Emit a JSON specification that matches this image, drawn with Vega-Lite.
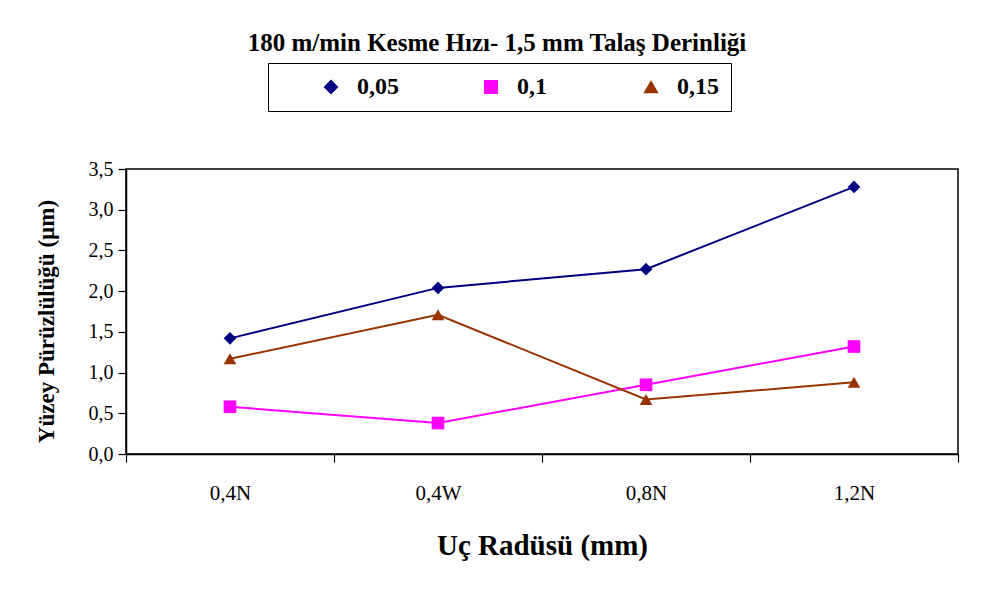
{
  "$schema": "https://vega.github.io/schema/vega-lite/v6.json",
  "autosize": "none",
  "width": 832,
  "height": 285,
  "padding": {"left": 126, "top": 169, "right": 26, "bottom": 147},
  "background": "white",
  "config": {
    "font": "Liberation Serif",
    "view": {"stroke": "black", "strokeWidth": 1.5},
    "axis": {"grid": false, "domainColor": "black", "domainWidth": 1.5, "tickColor": "black", "tickWidth": 1.2, "labelColor": "black", "titleColor": "black", "labelFont": "Liberation Serif", "titleFont": "Liberation Serif"}
  },
  "title": {
    "text": "180 m/min Kesme Hızı- 1,5 mm Talaş Derinliği",
    "font": "Liberation Serif",
    "fontSize": 25,
    "fontWeight": "bold",
    "color": "black",
    "anchor": "middle",
    "dx": -45,
    "baseline": "alphabetic",
    "offset": -13
  },
  "data": {
    "values": [
      {"radius": "0,4N", "feed": "0,05", "Ra": 1.42},
      {"radius": "0,4W", "feed": "0,05", "Ra": 2.04},
      {"radius": "0,8N", "feed": "0,05", "Ra": 2.27},
      {"radius": "1,2N", "feed": "0,05", "Ra": 3.28},
      {"radius": "0,4N", "feed": "0,1", "Ra": 0.58},
      {"radius": "0,4W", "feed": "0,1", "Ra": 0.38},
      {"radius": "0,8N", "feed": "0,1", "Ra": 0.85},
      {"radius": "1,2N", "feed": "0,1", "Ra": 1.32},
      {"radius": "0,4N", "feed": "0,15", "Ra": 1.17},
      {"radius": "0,4W", "feed": "0,15", "Ra": 1.71},
      {"radius": "0,8N", "feed": "0,15", "Ra": 0.67},
      {"radius": "1,2N", "feed": "0,15", "Ra": 0.88}
    ]
  },
  "encoding": {
    "x": {
      "field": "radius", "type": "nominal", "sort": ["0,4N", "0,4W", "0,8N", "1,2N"],
      "scale": {"type": "band", "paddingInner": 0, "paddingOuter": 0},
      "axis": {"labelAngle": 0, "tickBand": "extent", "tickSize": 8, "labelPadding": 20, "labelFontSize": 21, "title": "Uç Radüsü (mm)", "titleFontSize": 29, "titleFontWeight": "bold", "titlePadding": 28}
    },
    "y": {
      "field": "Ra", "type": "quantitative",
      "scale": {"domain": [0, 3.5], "nice": false, "zero": true},
      "axis": {"values": [0, 0.5, 1, 1.5, 2, 2.5, 3, 3.5], "labelExpr": "replace(format(datum.value, '.1f'), '.', ',')", "tickSize": 8, "labelPadding": 5, "labelFontSize": 20, "title": "Yüzey Pürüzlülüğü (µm)", "titleFontSize": 23, "titleFontWeight": "bold", "titlePadding": 30, "titleY": 152}
    },
    "color": {
      "field": "feed", "type": "nominal",
      "scale": {"domain": ["0,05", "0,1", "0,15"], "range": ["#000080", "#FF00FF", "#993300"]},
      "legend": {
        "title": null,
        "orient": "none",
        "direction": "horizontal",
        "legendX": 142,
        "legendY": -106,
        "strokeColor": "black",
        "fillColor": "white",
        "padding": 12,
        "gridAlign": "all",
        "columnPadding": 41,
        "labelFontSize": 24,
        "labelFontWeight": "bold",
        "labelColor": "black",
        "labelFont": "Liberation Serif",
        "labelOffset": 14,
        "symbolOffset": 39,
        "symbolSize": 160,
        "symbolOpacity": 1
      }
    }
  },
  "layer": [
    {"mark": {"type": "line", "strokeWidth": 2}},
    {
      "mark": {"type": "point", "filled": true, "opacity": 1, "size": 160},
      "encoding": {
        "shape": {"field": "feed", "type": "nominal", "scale": {"domain": ["0,05", "0,1", "0,15"], "range": ["diamond", "square", "triangle-up"]}, "legend": null}
      }
    }
  ]
}
